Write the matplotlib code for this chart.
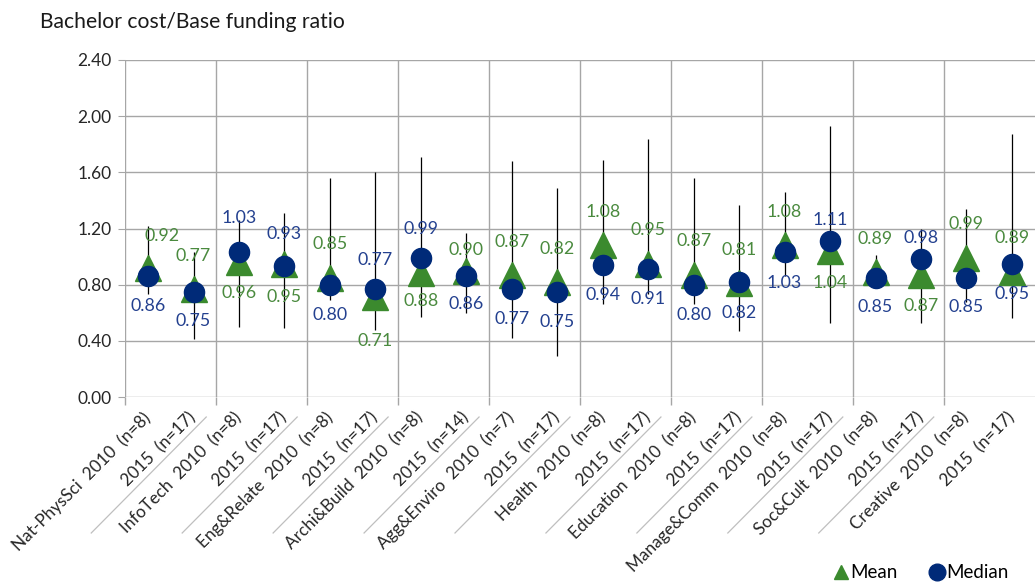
import numpy as np
import matplotlib
matplotlib.use("Agg")
import matplotlib.pyplot as plt
from matplotlib.lines import Line2D
from matplotlib.transforms import IdentityTransform

plt.rcParams['font.family'] = ['Lato', 'DejaVu Sans']

# category labels (two per field: 2010 and 2015)
labels = [
    "Nat-PhysSci  2010  (n=8)", "2015  (n=17)",
    "InfoTech  2010  (n=8)", "2015  (n=17)",
    "Eng&Relate  2010  (n=8)", "2015  (n=17)",
    "Archi&Build  2010  (n=8)", "2015  (n=14)",
    "Agg&Enviro  2010  (n=7)", "2015  (n=17)",
    "Health  2010  (n=8)", "2015  (n=17)",
    "Education  2010  (n=8)", "2015  (n=17)",
    "Manage&Comm  2010  (n=8)", "2015  (n=17)",
    "Soc&Cult  2010  (n=8)", "2015  (n=17)",
    "Creative  2010  (n=8)", "2015  (n=17)",
]
mean_vals = [0.92, 0.77, 0.96, 0.95, 0.85, 0.71, 0.88, 0.90, 0.87, 0.82,
             1.08, 0.95, 0.87, 0.81, 1.08, 1.04, 0.89, 0.87, 0.99, 0.89]
median_vals = [0.86, 0.75, 1.03, 0.93, 0.80, 0.77, 0.99, 0.86, 0.77, 0.75,
               0.94, 0.91, 0.80, 0.82, 1.03, 1.11, 0.85, 0.98, 0.85, 0.95]
range_max = [1.22, 1.03, 1.26, 1.31, 1.56, 1.60, 1.71, 1.17, 1.68, 1.49,
             1.69, 1.84, 1.56, 1.37, 1.46, 1.93, 1.01, 1.20, 1.34, 1.87]
range_min = [0.73, 0.41, 0.50, 0.49, 0.69, 0.48, 0.57, 0.60, 0.42, 0.29,
             0.66, 0.73, 0.66, 0.47, 0.86, 0.53, 0.81, 0.53, 0.68, 0.56]

# label offsets in pixels (negative = above the marker)
mean_off = [-32, -33, 31, 33, -34, 44, 28, -21, -33, -33,
            -33, -34, -34, -33, -33, 32, -33, 31, -34, -34]
median_off = [30, 29, -34, -32, 30, -29, -29, 28, 30, 30,
              30, 30, 30, 31, 31, -21, 29, -21, 29, 30]

GREEN = '#3B8A2E'
NAVY = '#002A78'
GREEN_TXT = '#4A8A3E'
BLUE_TXT = '#23408F'
GRID = '#A6A6A6'

W, H = 1036, 583
fig = plt.figure(figsize=(W / 100, H / 100), dpi=100)
ax = fig.add_axes([125.3 / W, 1 - 397 / H, 909.4 / W, 337 / H])

x = np.arange(len(labels))
ax.set_xlim(-0.5, len(labels) - 0.5)
ax.set_ylim(0, 2.4)

for s in ax.spines.values():
    s.set_visible(False)

yt = np.arange(0, 2.41, 0.4)
for yv in yt:
    ax.axhline(yv, color=GRID, lw=1.0, zorder=0)
seps = np.arange(-0.5, len(labels) - 1, 2)
for sx in seps:
    ax.axvline(sx, color=GRID, lw=1.0, zorder=0)

ax.set_yticks(yt)
ax.set_yticklabels([f"{v:.2f}" for v in yt], fontsize=12.5, color='#262626')
ax.tick_params(axis='y', length=5, color=GRID, pad=5)

ax.set_xticks(x)
ax.set_xticklabels(labels, rotation=45, ha='right', va='center',
                   rotation_mode='anchor', fontsize=12.3, color='#262626')
ax.tick_params(axis='x', which='major', length=0, pad=13)
ax.set_xticks(seps, minor=True)
ax.tick_params(axis='x', which='minor', length=6, color=GRID, width=1.0)

# min-max whiskers
ax.vlines(x, range_min, range_max, color='black', lw=0.9, zorder=2)

ax.plot(x, mean_vals, linestyle='none', marker='^', ms=19,
        color=GREEN, zorder=3)
ax.plot(x, median_vals, linestyle='none', marker='o', ms=14.5,
        color=NAVY, zorder=4)

for i in range(len(labels)):
    dx = 14 if i == 0 else 0
    ax.annotate(f"{mean_vals[i]:.2f}", (x[i], mean_vals[i]),
                xytext=(dx, -mean_off[i]), textcoords='offset pixels',
                ha='center', va='center', fontsize=12.8, color=GREEN_TXT,
                zorder=5)
    ax.annotate(f"{median_vals[i]:.2f}", (x[i], median_vals[i]),
                xytext=(0, -median_off[i]), textcoords='offset pixels',
                ha='center', va='center', fontsize=12.8, color=BLUE_TXT,
                zorder=5)

# slanted separators between category labels (multi-level axis look)
for sx in seps[1:]:
    px, py = ax.transData.transform((sx, 0))
    ln = Line2D([px - 10, px - 125], [py - 20, py - 136],
                transform=IdentityTransform(), color='#BFBFBF', lw=0.9)
    fig.add_artist(ln)

fig.text(40 / W, 1 - 22 / H, "Bachelor cost/Base funding ratio",
         fontsize=15.2, color='#1a1a1a', va='center', ha='left')

handles = [
    Line2D([], [], linestyle='none', marker='^', ms=10, color=GREEN),
    Line2D([], [], linestyle='none', marker='o', ms=12, color=NAVY),
]
fig.legend(handles, ["Mean", "Median"], loc='center', ncol=2,
           bbox_to_anchor=(920 / W, 1 - 573 / H), frameon=False,
           fontsize=13.5, handletextpad=0.0, columnspacing=1.6,
           handlelength=1.0)

fig.savefig("out.png", dpi=100)
